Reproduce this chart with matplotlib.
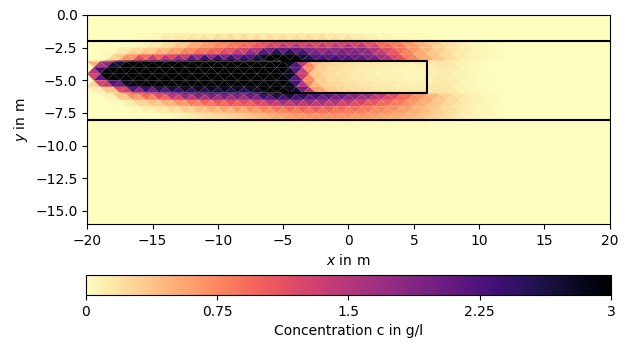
import numpy as np
import matplotlib
matplotlib.use('Agg')
import matplotlib.pyplot as plt
import matplotlib.tri as mtri

# node columns (m), one value per column in every row below
x_nodes = np.arange(-20, 13, 1.0)

# row depths (m)
y_rows = [-1.4, -1.95, -2.05, -2.5, -3.0, -3.45, -3.55, -4.0, -4.5, -5.0,
          -5.5, -5.95, -6.05, -6.5, -7.0, -7.5, -7.95, -8.05, -8.6]

# concentration in g/l, x = -20 ... 12
c_140 = [0, 0, 0, 0, 0, 0, 0.05, 0.05, 0.05, 0.05, 0.05, 0.05, 0.05, 0.05, 0.05, 0.05, 0.05, 0.05, 0.05, 0.05,
         0.05, 0.03, 0, 0, 0, 0, 0, 0, 0, 0, 0, 0, 0]
c_195 = [0, 0, 0, 0, 0.05, 0.1, 0.15, 0.2, 0.25, 0.25, 0.3, 0.3, 0.3, 0.3, 0.3, 0.3, 0.3, 0.3, 0.25, 0.25,
         0.2, 0.15, 0.1, 0.1, 0.05, 0.05, 0.03, 0, 0, 0, 0, 0, 0]
c_205 = [0, 0, 0, 0, 0, 0.05, 0.1, 0.2, 0.35, 0.5, 0.6, 0.7, 0.8, 0.9, 1.0, 1.0, 1.0, 0.95, 0.95, 1.0,
         1.0, 0.9, 0.8, 0.75, 0.7, 0.5, 0.35, 0.22, 0.12, 0.08, 0.05, 0.02, 0]
c_250 = [0, 0, 0, 0.05, 0.15, 0.25, 0.35, 0.5, 0.7, 0.8, 0.9, 1.0, 1.1, 1.3, 1.6, 1.7, 1.8, 1.6, 1.6, 1.7,
         1.8, 1.7, 1.2, 1.0, 0.8, 0.6, 0.4, 0.25, 0.15, 0.08, 0.05, 0.02, 0]
c_300 = [0, 0, 0.1, 0.3, 0.45, 0.5, 0.7, 0.9, 1.0, 1.1, 1.2, 1.4, 1.8, 2.2, 3.0, 3.0, 2.8, 2.2, 2.0, 2.1,
         2.0, 1.9, 1.7, 1.3, 0.9, 0.6, 0.4, 0.25, 0.15, 0.08, 0.05, 0.02, 0]
c_345 = [0, 0.05, 0.6, 1.2, 1.8, 1.8, 2.0, 2.2, 3.0, 3.0, 3.0, 2.8, 2.7, 3.0, 3.0, 3.0, 3.0, 2.5, 2.4, 2.4,
         2.3, 2.2, 2.0, 1.5, 1.0, 0.65, 0.45, 0.28, 0.15, 0.08, 0.05, 0.02, 0]
c_355 = [0, 0.3, 2.0, 3.0, 3.0, 3.0, 3.0, 3.0, 3.0, 3.0, 3.0, 3.0, 3.0, 3.0, 3.0, 3.0, 2.4, 0.6, 0.3, 0.25,
         0.2, 0.18, 0.15, 0.12, 0.1, 0.1, 0.12, 0.2, 0.12, 0.06, 0.03, 0, 0]
c_400 = [1.2, 3.0, 3.0, 3.0, 3.0, 3.0, 3.0, 3.0, 3.0, 3.0, 3.0, 3.0, 3.0, 3.0, 3.0, 3.0, 1.3, 0.4, 0.25, 0.2,
         0.15, 0.12, 0.1, 0.08, 0.07, 0.07, 0.1, 0.15, 0.1, 0.05, 0.02, 0, 0]
c_450 = [0.3, 3.0, 3.0, 3.0, 3.0, 3.0, 3.0, 3.0, 3.0, 3.0, 3.0, 3.0, 3.0, 3.0, 3.0, 3.0, 2.3, 0.4, 0.22, 0.18,
         0.12, 0.1, 0.08, 0.06, 0.05, 0.05, 0.08, 0.12, 0.08, 0.04, 0.02, 0, 0]
c_500 = [0.5, 3.0, 3.0, 3.0, 3.0, 3.0, 3.0, 3.0, 3.0, 3.0, 3.0, 3.0, 3.0, 3.0, 3.0, 3.0, 1.3, 0.4, 0.25, 0.2,
         0.15, 0.12, 0.1, 0.08, 0.06, 0.06, 0.1, 0.14, 0.09, 0.05, 0.02, 0, 0]
c_550 = [0, 0.3, 0.8, 2.5, 3.0, 3.0, 3.0, 3.0, 3.0, 3.0, 3.0, 3.0, 3.0, 3.0, 3.0, 3.0, 2.5, 0.6, 0.3, 0.25,
         0.2, 0.18, 0.15, 0.12, 0.1, 0.1, 0.12, 0.18, 0.1, 0.05, 0.02, 0, 0]
c_595 = [0, 0, 0.3, 1.0, 1.3, 1.6, 2.0, 2.2, 2.3, 2.4, 2.5, 2.3, 2.3, 2.8, 3.0, 3.0, 2.8, 0.9, 0.4, 0.3,
         0.25, 0.2, 0.18, 0.15, 0.12, 0.12, 0.15, 0.2, 0.12, 0.06, 0.03, 0, 0]
c_605 = [0, 0, 0.2, 0.8, 1.1, 1.3, 1.7, 2.0, 2.2, 2.3, 2.4, 2.2, 2.2, 2.7, 3.0, 3.0, 3.0, 2.6, 2.4, 2.3,
         2.1, 2.0, 1.8, 1.4, 1.1, 0.8, 0.55, 0.35, 0.2, 0.1, 0.05, 0.02, 0]
c_650 = [0, 0, 0.05, 0.2, 0.45, 0.5, 0.7, 0.9, 1.1, 1.2, 1.3, 1.4, 1.3, 1.6, 1.9, 2.0, 1.9, 1.9, 1.8, 1.7,
         1.5, 1.3, 1.1, 0.95, 0.8, 0.6, 0.45, 0.3, 0.18, 0.1, 0.05, 0.02, 0]
c_700 = [0, 0, 0, 0, 0.1, 0.2, 0.3, 0.4, 0.5, 0.6, 0.7, 0.75, 0.8, 0.9, 1.0, 1.1, 1.1, 1.2, 1.2, 1.1,
         1.0, 0.95, 0.85, 0.8, 0.7, 0.55, 0.4, 0.28, 0.17, 0.1, 0.05, 0.02, 0]
c_750 = [0, 0, 0, 0, 0, 0, 0.05, 0.1, 0.2, 0.25, 0.3, 0.35, 0.4, 0.5, 0.55, 0.65, 0.7, 0.75, 0.75, 0.75,
         0.75, 0.7, 0.65, 0.6, 0.55, 0.45, 0.35, 0.25, 0.15, 0.08, 0.04, 0.02, 0]
c_795 = [0, 0, 0, 0, 0, 0, 0, 0.05, 0.1, 0.15, 0.2, 0.25, 0.3, 0.4, 0.5, 0.55, 0.6, 0.65, 0.65, 0.65,
         0.65, 0.6, 0.55, 0.5, 0.45, 0.38, 0.3, 0.22, 0.14, 0.08, 0.04, 0.02, 0]
c_805 = [0, 0, 0, 0, 0, 0, 0, 0, 0, 0, 0, 0, 0.05, 0.05, 0.05, 0.05, 0.05, 0.05, 0.05, 0.05,
         0.05, 0.05, 0.05, 0.05, 0.05, 0.05, 0.03, 0, 0, 0, 0, 0, 0]
c_860 = [0] * 33

rows = [c_140, c_195, c_205, c_250, c_300, c_345, c_355, c_400, c_450, c_500,
        c_550, c_595, c_605, c_650, c_700, c_750, c_795, c_805, c_860]

cbar_ticks = [0, 0.75, 1.5, 2.25, 3]
cbar_labels = ['0', '0.75', '1.5', '2.25', '3']

# every second row is shifted half a column; triangles are built row by row
n = len(x_nodes)
xs, ys, cs = [], [], []
for i, (yr, row) in enumerate(zip(y_rows, rows)):
    xs.extend(x_nodes + 0.5 * (i % 2))
    ys.extend([yr] * n)
    cs.extend(row)
xs = np.array(xs)
ys = np.array(ys)
cs = np.array(cs, dtype=float)

triangles = []
for i in range(len(y_rows) - 1):
    up = i * n
    lo = (i + 1) * n
    for k in range(n - 1):
        if i % 2 == 0:
            # lower row sits half a column to the right
            triangles.append([up + k, up + k + 1, lo + k])
            triangles.append([lo + k, lo + k + 1, up + k + 1])
        else:
            triangles.append([lo + k, lo + k + 1, up + k])
            triangles.append([up + k, up + k + 1, lo + k + 1])
tri = mtri.Triangulation(xs, ys, triangles)

cmap = plt.get_cmap('magma_r')

fig = plt.figure(figsize=(6.29, 3.48), dpi=100)
ax = fig.add_axes([0.1367, 0.3563, 0.8347, 0.6006])
ax.set_facecolor(cmap(0.0))
pc = ax.tripcolor(tri, cs, cmap=cmap, vmin=0, vmax=3, shading='flat',
                  antialiased=True)

# layer boundaries and the lens
ax.plot([-20, 20], [-2, -2], color='k', lw=1.5)
ax.plot([-20, 20], [-8, -8], color='k', lw=1.5)
ax.plot([-5, 6, 6, -5], [-3.5, -3.5, -6, -6], color='k', lw=1.5)

ax.set_xlim(-20, 20)
ax.set_ylim(-16, 0)
ax.set_aspect('equal')
ax.set_xticks(np.arange(-20, 21, 5))
ax.set_yticks(np.arange(-15, 0.1, 2.5))
ax.set_xlabel('$x$ in m')
ax.set_ylabel('$y$ in m')

cax = fig.add_axes([0.1367, 0.1523, 0.8347, 0.0575])
cb = fig.colorbar(pc, cax=cax, orientation='horizontal', ticks=cbar_ticks)
cb.ax.set_xticklabels(cbar_labels)
cb.set_label('Concentration c in g/l')

fig.savefig('out.png', dpi=100)
